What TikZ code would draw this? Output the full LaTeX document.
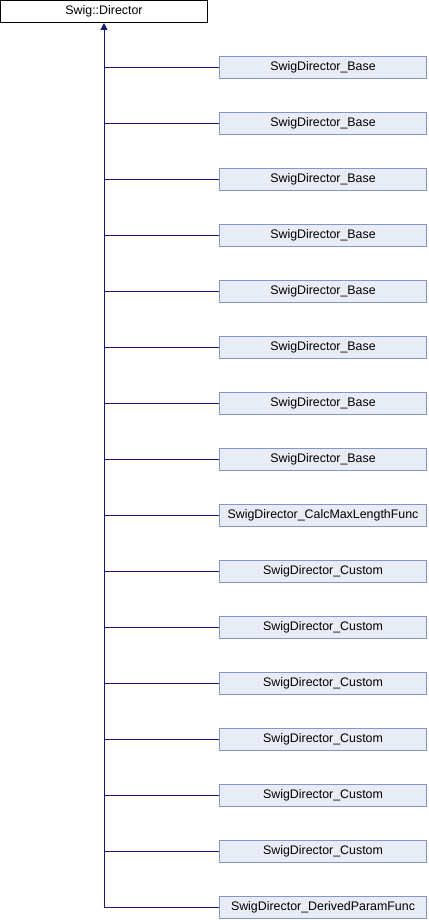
\documentclass[tikz,border=0pt]{standalone}
\usepackage{fontspec}
\setmainfont{Liberation Sans}
\usetikzlibrary{arrows.meta}
\definecolor{edgecol}{HTML}{191970}
\definecolor{boxfill}{HTML}{E8ECF5}
\definecolor{boxdraw}{HTML}{8497C8}
\begin{document}
\begin{tikzpicture}[x=1pt,y=-1pt,
  basebox/.style={rectangle, minimum width=207pt, minimum height=22pt, inner sep=0pt, line width=1pt, font=\fontsize{12.4}{14}\selectfont},
  topbox/.style={basebox, draw=black, fill=white},
  childbox/.style={basebox, draw=boxdraw, fill=boxfill},
  link/.style={draw=edgecol, line width=1pt},
  inherit/.style={link, -{Triangle[length=7pt,width=7pt]}}]
\useasboundingbox (0,0) rectangle (428,920);
\node[topbox] (dir) at (104,11.5) {Swig::Director};
\foreach \i/\t in {0/SwigDirector\_Base, 1/SwigDirector\_Base, 2/SwigDirector\_Base, 3/SwigDirector\_Base,
  4/SwigDirector\_Base, 5/SwigDirector\_Base, 6/SwigDirector\_Base, 7/SwigDirector\_Base,
  8/SwigDirector\_CalcMaxLengthFunc, 9/SwigDirector\_Custom, 10/SwigDirector\_Custom, 11/SwigDirector\_Custom,
  12/SwigDirector\_Custom, 13/SwigDirector\_Custom, 14/SwigDirector\_Custom, 15/SwigDirector\_DerivedParamFunc}{
  \node[childbox] (c\i) at (323,{67.5+56*\i}) {\t};
  \draw[link] (c\i.west) -- (c\i.west -| dir.south);
}
\draw[inherit] (c15.west -| dir.south) -- (dir.south);
\end{tikzpicture}
\end{document}
